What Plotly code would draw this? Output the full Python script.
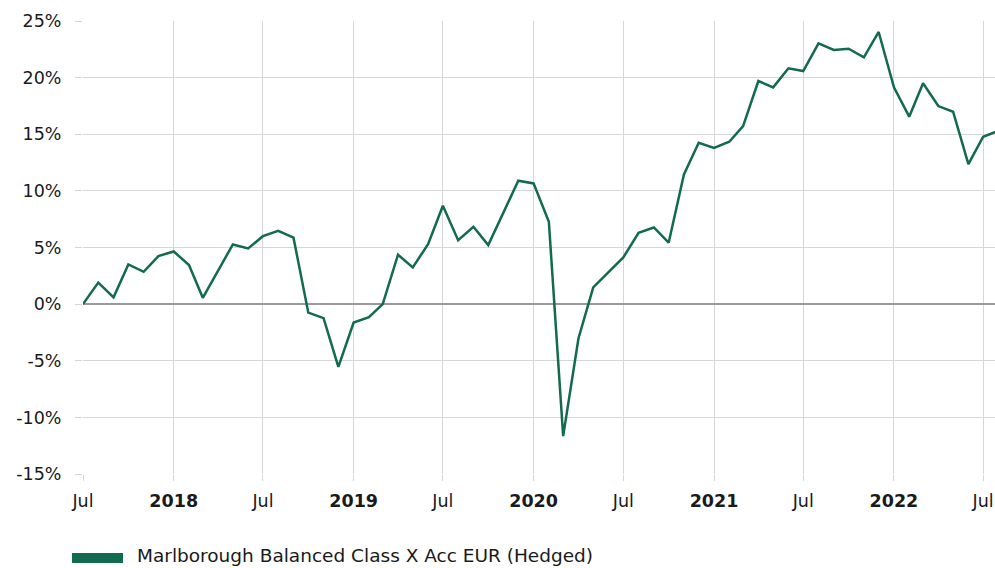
import plotly.graph_objects as go
import pandas as pd

# Cumulative performance, monthly, first of month
start_month = "2017-07-01"
performance_pct = [
    0.0, 1.9, 0.6, 3.5, 2.85, 4.24,                                   # 2017 Jul-Dec
    4.65, 3.45, 0.56, 2.94, 5.27, 4.92, 6.0, 6.48, 5.87, -0.75, -1.24, -5.54,   # 2018
    -1.62, -1.15, 0.0, 4.36, 3.24, 5.3, 8.68, 5.65, 6.83, 5.21, 8.07, 10.9,     # 2019
    10.66, 7.27, -11.66, -3.03, 1.47, 2.8, 4.12, 6.3, 6.77, 5.42, 11.45, 14.25, # 2020
    13.8, 14.34, 15.72, 19.7, 19.14, 20.82, 20.58, 23.03, 22.44, 22.55, 21.79, 24.03,  # 2021
    19.14, 16.55, 19.5, 17.49, 16.99, 12.37, 14.78, 15.3,              # 2022 Jan-Aug
]
dates = pd.date_range(start_month, periods=len(performance_pct), freq="MS")

series_name = "Marlborough Balanced Class X Acc EUR (Hedged)"

x_tick_dates = ["2017-07-01", "2018-01-01", "2018-07-01", "2019-01-01", "2019-07-01",
                "2020-01-01", "2020-07-01", "2021-01-01", "2021-07-01", "2022-01-01",
                "2022-07-01"]
x_tick_labels = ["Jul", "<b>2018</b>", "Jul", "<b>2019</b>", "Jul", "<b>2020</b>",
                 "Jul", "<b>2021</b>", "Jul", "<b>2022</b>", "Jul"]
y_tick_values = [-15, -10, -5, 0, 5, 10, 15, 20, 25]
y_tick_labels = [f"{v}%" for v in y_tick_values]

line_color = "#126a4f"
grid_color = "#d6d6d6"
font_family = "DejaVu Sans, Verdana, sans-serif"

fig = go.Figure()
fig.add_trace(go.Scatter(
    x=dates, y=performance_pct, mode="lines", name=series_name,
    line=dict(color=line_color, width=2.5), showlegend=False,
))

fig.update_layout(
    width=995, height=568,
    margin=dict(l=83, r=0, t=21, b=94),
    paper_bgcolor="white", plot_bgcolor="white",
    font=dict(family=font_family, size=17.5, color="#1a1a1a"),
    xaxis=dict(
        range=["2017-07-01", "2022-07-25"],
        tickmode="array", tickvals=x_tick_dates, ticktext=x_tick_labels,
        showgrid=True, gridcolor=grid_color, gridwidth=1,
        ticks="outside", ticklen=6, tickcolor=grid_color,
        ticklabelstandoff=5,
        showline=False, zeroline=False,
    ),
    yaxis=dict(
        range=[-15, 25],
        tickmode="array", tickvals=y_tick_values, ticktext=y_tick_labels,
        showgrid=True, gridcolor=grid_color, gridwidth=1,
        ticks="outside", ticklen=7, tickcolor=grid_color,
        ticklabelstandoff=10,
        zeroline=True, zerolinecolor="#9a9a9a", zerolinewidth=1.5,
        showline=False,
    ),
)

# Legend key drawn below the plot
fig.add_shape(type="rect", xref="paper", yref="paper",
              x0=-0.0121, x1=0.0439, y0=-0.1965, y1=-0.1744,
              fillcolor=line_color, line=dict(width=0))
fig.add_annotation(xref="paper", yref="paper", x=0.057, y=-0.1810,
                   xanchor="left", yanchor="middle", showarrow=False,
                   text=series_name, font=dict(family=font_family, size=18.5, color="#1a1a1a"))

fig.write_html("out.html")
